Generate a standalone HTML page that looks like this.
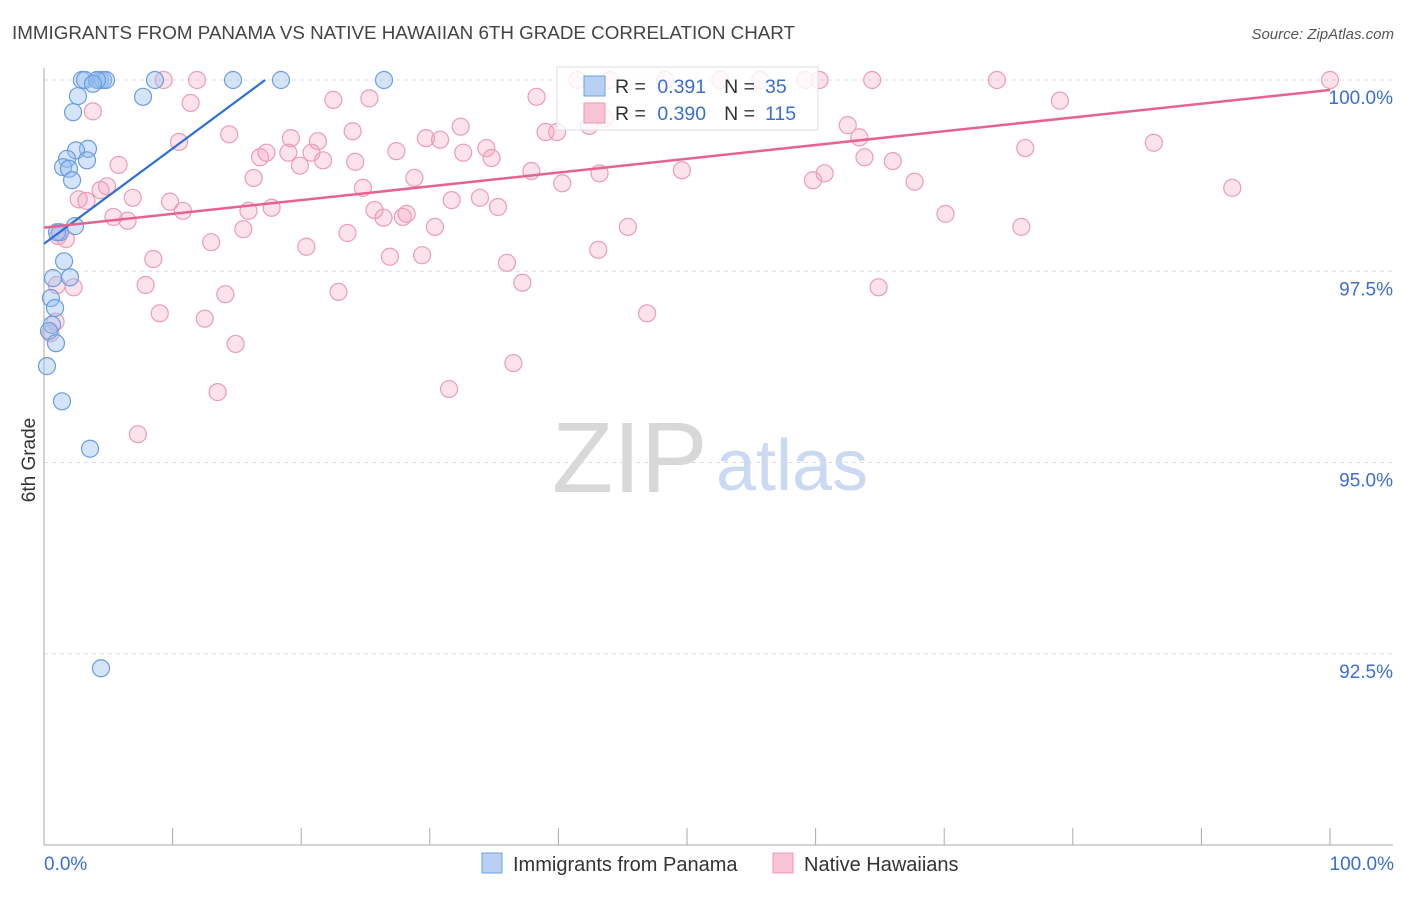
<!DOCTYPE html>
<html><head><meta charset="utf-8"><style>
body{margin:0;background:#fff;font-family:"Liberation Sans",sans-serif}
svg text{font-family:"Liberation Sans",sans-serif}
</style></head><body>
<svg id="c" width="1406" height="892" xmlns="http://www.w3.org/2000/svg">
<text x="12" y="39" font-size="18.8" fill="#444">IMMIGRANTS FROM PANAMA VS NATIVE HAWAIIAN 6TH GRADE CORRELATION CHART</text>
<text x="1394" y="39" font-size="15" fill="#555" font-style="italic" text-anchor="end">Source: ZipAtlas.com</text>
<g>
<text x="552" y="492" font-size="100" fill="#d8d8d8" font-family="Liberation Serif">ZIP</text>
<text x="716" y="490" font-size="72" fill="#c9daf2">atlas</text>
</g>
<g id="grid"></g><g id="axes"></g><g id="pts"></g><g id="trend"></g>
<text x="35" y="460" font-size="19" fill="#333" text-anchor="middle" transform="rotate(-90 35 460)">6th Grade</text>
<text x="44" y="870" font-size="19" fill="#3a6fd0">0.0%</text>
<text x="1394" y="870" font-size="19" fill="#3a6fd0" text-anchor="end">100.0%</text>
<g>
<rect x="557" y="67" width="261" height="63" fill="rgba(255,255,255,0.8)" stroke="#ddd"/>
<rect x="584" y="76" width="21" height="20" fill="#b7d0f3" stroke="#6fa0e0"/>
<rect x="584" y="103" width="21" height="20" fill="#f8c3d3" stroke="#eb9ab5"/>
<text x="615" y="93" font-size="19.5" fill="#333">R = <tspan fill="#3a6fd0" dx="6">0.391</tspan><tspan dx="18">N =</tspan><tspan fill="#3a6fd0" dx="10">35</tspan></text>
<text x="615" y="120" font-size="19.5" fill="#333">R = <tspan fill="#3a6fd0" dx="6">0.390</tspan><tspan dx="18">N =</tspan><tspan fill="#3a6fd0" dx="10">115</tspan></text>
</g>
<g>
<rect x="482" y="853" width="20" height="20" fill="#b7d0f3" stroke="#6fa0e0"/>
<text x="513" y="871" font-size="20" fill="#333">Immigrants from Panama</text>
<rect x="773" y="853" width="20" height="20" fill="#f8c3d3" stroke="#eb9ab5"/>
<text x="804" y="871" font-size="20" fill="#333">Native Hawaiians</text>
</g>
</svg>
<script>
const yTicks=[100,97.5,95,92.5];
const yTickLabels=["100.0%","97.5%","95.0%","92.5%"];
const xTicks=[0,10,20,30,40,50,60,70,80,90,100];
const panamaX=[2.95,3.19,4.35,4.59,4.82,4.12,3.81,8.63,14.7,18.43,26.44,7.7,2.64,2.26,3.42,2.49,1.79,3.34,1.48,1.94,2.18,2.41,1.24,1.01,1.56,0.7,2.02,0.54,0.86,0.62,0.39,0.93,0.23,1.4,3.58,4.43];
const panamaY=[100,100,100,100,100,100,99.95,100,100,100,100,99.78,99.79,99.58,99.1,99.08,98.97,98.95,98.86,98.84,98.69,98.09,98.01,98.01,97.63,97.41,97.42,97.15,97.02,96.8,96.72,96.56,96.26,95.8,95.18,92.31];
const hawaiiX=[9.3,11.9,41.5,44.0,48.3,52.6,55.7,59.2,60.3,64.4,74.1,100.0,3.8,11.4,22.5,25.3,38.3,79.0,10.5,14.4,19.2,21.3,24.0,32.4,29.7,30.8,39.0,39.9,42.4,43.6,62.5,63.4,76.3,86.3,5.8,16.8,17.3,19.0,19.9,20.8,21.7,24.2,27.4,32.6,34.4,34.8,37.9,43.2,63.8,66.0,16.3,24.8,28.8,40.3,49.6,59.8,60.7,67.7,92.4,4.4,4.9,2.7,6.9,9.8,3.3,10.8,5.4,6.5,15.9,17.7,25.7,26.4,27.9,28.2,31.7,33.9,35.3,70.1,1.1,1.7,13.0,15.5,20.4,23.6,30.4,45.4,76.0,8.5,26.9,29.4,36.0,43.1,1.0,2.3,7.9,14.1,22.9,37.2,64.9,9.0,12.5,46.9,0.9,0.5,14.9,36.5,13.5,31.5,7.3];
const hawaiiY=[100,100,100,100,100,100,100,100,100,100,100,100,99.59,99.7,99.74,99.76,99.78,99.73,99.19,99.29,99.24,99.2,99.33,99.39,99.24,99.22,99.32,99.32,99.4,99.5,99.41,99.25,99.11,99.18,98.89,98.99,99.05,99.05,98.88,99.05,98.95,98.93,99.07,99.05,99.11,98.98,98.81,98.78,98.99,98.94,98.72,98.59,98.72,98.65,98.82,98.69,98.78,98.67,98.59,98.56,98.61,98.44,98.46,98.41,98.42,98.29,98.21,98.16,98.29,98.33,98.3,98.2,98.21,98.25,98.43,98.46,98.34,98.25,97.96,97.92,97.88,98.05,97.82,98.0,98.08,98.08,98.08,97.66,97.69,97.71,97.61,97.78,97.32,97.29,97.32,97.2,97.23,97.35,97.29,96.95,96.88,96.95,96.84,96.69,96.55,96.3,95.92,95.96,95.37];
const panamaTrend=[0,97.86,17.2,100];
const hawaiiTrend=[0,98.07,100,99.87];
const X0=44,X1=1330,Ytop=80,pxPerPct=76.5;
const sx=v=>X0+(X1-X0)*v/100;
const sy=v=>Ytop+(100-v)*pxPerPct;
const NS="http://www.w3.org/2000/svg";
function mk(tag,attrs,parent){const e=document.createElementNS(NS,tag);for(const k in attrs)e.setAttribute(k,attrs[k]);document.getElementById(parent).appendChild(e);return e;}
yTicks.forEach((t,i)=>{
 const l=mk('line',{x1:X0,x2:1393,y1:sy(t),y2:sy(t),stroke:'#ddd','stroke-dasharray':'4,4'},'grid');
 
 
 const tx=mk('text',{x:1393,y:sy(t)+24,'font-size':19,fill:'#3a6fd0','text-anchor':'end'},'grid');
 tx.textContent=yTickLabels[i];
 
 
});
const ya=mk('line',{x1:X0,x2:X0,y1:68,y2:845,stroke:'#aaa'},'axes');


const xa=mk('line',{x1:X0,x2:1393,y1:845,y2:845,stroke:'#aaa'},'axes');


xTicks.forEach(t=>{
 const l=mk('line',{x1:sx(t),x2:sx(t),y1:828,y2:845,stroke:'#aaa'},'axes');
 
 
});
hawaiiX.forEach((x,i)=>{
 const c=mk('circle',{cx:sx(x),cy:sy(hawaiiY[i]),r:8.5,fill:'rgba(244,160,188,0.3)',stroke:'#ec9cb7','stroke-width':1.2},'pts');
 
 
});
panamaX.forEach((x,i)=>{
 const c=mk('circle',{cx:sx(x),cy:sy(panamaY[i]),r:8.5,fill:'rgba(150,190,240,0.4)',stroke:'#6a9de0','stroke-width':1.2},'pts');
 
 
});
const t1=mk('line',{x1:sx(panamaTrend[0]),y1:sy(panamaTrend[1]),x2:sx(panamaTrend[2]),y2:sy(panamaTrend[3]),stroke:'#2f6fd6','stroke-width':2.2},'trend');


const t2=mk('line',{x1:sx(hawaiiTrend[0]),y1:sy(hawaiiTrend[1]),x2:sx(hawaiiTrend[2]),y2:sy(hawaiiTrend[3]),stroke:'#e8628e','stroke-width':2.5},'trend');


</script>
</body></html>
